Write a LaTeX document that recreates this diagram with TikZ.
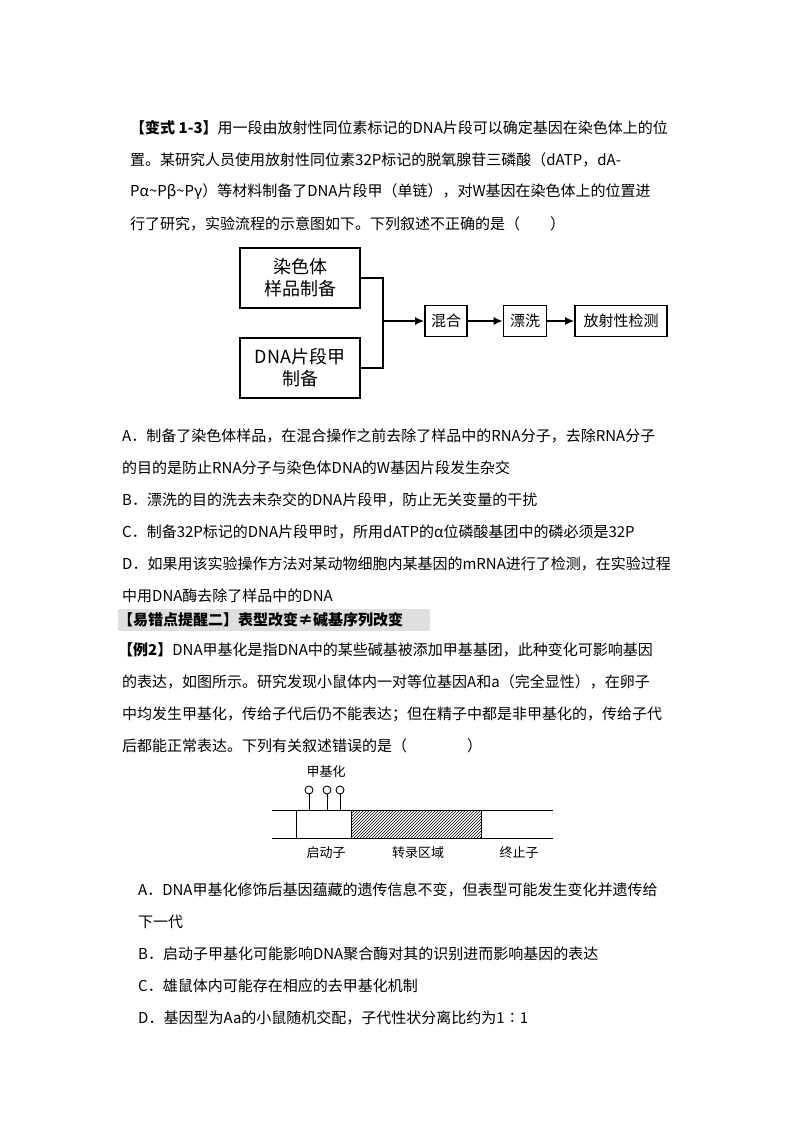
\documentclass[tikz,border=0pt]{standalone}
\usepackage{fontspec}
\setmainfont{Noto Sans CJK SC}
\usetikzlibrary{positioning,patterns,arrows.meta}
\begin{document}
\begin{tikzpicture}[x=1pt,y=-1pt,
    txt/.style={anchor=west,inner sep=0pt,font=\fontsize{15}{15}\selectfont},
    box/.style={draw,line width=1.6pt,inner sep=0pt},
    lab/.style={inner sep=0pt,font=\fontsize{13}{13}\selectfont},
    flow/.style={line width=1.6pt,-{Latex[length=9pt,width=8pt]}}
]
\useasboundingbox (0,0) rectangle (800,1132);

% question 1-3
\node[txt] (q1) at (130,128) {\textbf{【变式 1-3】}用一段由放射性同位素标记的DNA片段可以确定基因在染色体上的位};
\node[txt] (q2) at (130,160) {置。某研究人员使用放射性同位素32P标记的脱氧腺苷三磷酸（dATP，dA-};
\node[txt] (q3) at (130,192) {Pα\textasciitilde Pβ\textasciitilde Pγ）等材料制备了DNA片段甲（单链），对W基因在染色体上的位置进};
\node[txt] (q4) at (130,224) {行了研究，实验流程的示意图如下。下列叙述不正确的是（\hspace{2em}）};

% flow chart
\node[box,minimum width=120pt,minimum height=60pt,align=center,font=\fontsize{18}{22}\selectfont] (sample) at (300,278) {染色体\\样品制备};
\node[box,minimum width=120pt,minimum height=60pt,align=center,font=\fontsize{18}{22}\selectfont] (frag) at (300,368) {DNA片段甲\\制备};
\coordinate (join) at (383,321);
\node[box,minimum width=42pt,minimum height=31pt,font=\fontsize{15}{15}\selectfont] (mix) at (446,321) {混合};
\node[box,minimum width=43pt,minimum height=31pt,font=\fontsize{15}{15}\selectfont] (wash) at (525,321) {漂洗};
\node[box,minimum width=92pt,minimum height=31pt,font=\fontsize{15}{15}\selectfont] (detect) at (621,321) {放射性检测};
\draw[line width=1.6pt] (sample.east) -| (join) |- (frag.east);
\draw[flow] (join) -- (mix);
\draw[flow] (mix) -- (wash);
\draw[flow] (wash) -- (detect);

% options
\node[txt] (a1) at (122,436) {A．制备了染色体样品，在混合操作之前去除了样品中的RNA分子，去除RNA分子};
\node[txt] (a2) at (122,468) {的目的是防止RNA分子与染色体DNA的W基因片段发生杂交};
\node[txt] (b1) at (122,500) {B．漂洗的目的洗去未杂交的DNA片段甲，防止无关变量的干扰};
\node[txt] (c1) at (122,532) {C．制备32P标记的DNA片段甲时，所用dATP的α位磷酸基团中的磷必须是32P};
\node[txt] (d1) at (122,564) {D．如果用该实验操作方法对某动物细胞内某基因的mRNA进行了检测，在实验过程};
\node[txt] (d2) at (122,596) {中用DNA酶去除了样品中的DNA};

% example 2
\fill[gray!25] (118,609) rectangle (430,631);
\node[txt] (tip) at (118,620) {\textbf{【易错点提醒二】表型改变≠碱基序列改变}};
\node[txt] (e1) at (118,650) {\textbf{【例2】}DNA甲基化是指DNA中的某些碱基被添加甲基基团，此种变化可影响基因};
\node[txt] (e2) at (122,682) {的表达，如图所示。研究发现小鼠体内一对等位基因A和a（完全显性），在卵子};
\node[txt] (e3) at (122,714) {中均发生甲基化，传给子代后仍不能表达；但在精子中都是非甲基化的，传给子代};
\node[txt] (e4) at (122,746) {后都能正常表达。下列有关叙述错误的是（\hspace{4em}）};

% gene diagram
\draw[line width=1pt] (272,810) -- (553,810) (272,838) -- (553,838) (296,810) -- (296,838);
\draw[line width=1pt,pattern=north east lines] (351,810) rectangle (481,838);
\foreach \i/\x in {1/309,2/327,3/340}{
  \node[draw,circle,line width=0.9pt,minimum size=8pt,inner sep=0pt] (m\i) at (\x,790) {};
  \draw[line width=1pt] (m\i.south) -- (\x,810);
}
\node[lab] (meth) at (326,772) {甲基化};
\node[lab] (prom) at (326,853) {启动子};
\node[lab] (trans) at (418,853) {转录区域};
\node[lab] (term) at (519,853) {终止子};

% options
\node[txt] (f1) at (138,890) {A．DNA甲基化修饰后基因蕴藏的遗传信息不变，但表型可能发生变化并遗传给};
\node[txt] (f2) at (138,922) {下一代};
\node[txt] (g1) at (138,954) {B．启动子甲基化可能影响DNA聚合酶对其的识别进而影响基因的表达};
\node[txt] (h1) at (138,986) {C．雄鼠体内可能存在相应的去甲基化机制};
\node[txt] (k1) at (138,1018) {D．基因型为Aa的小鼠随机交配，子代性状分离比约为1∶1};
\end{tikzpicture}
\end{document}
